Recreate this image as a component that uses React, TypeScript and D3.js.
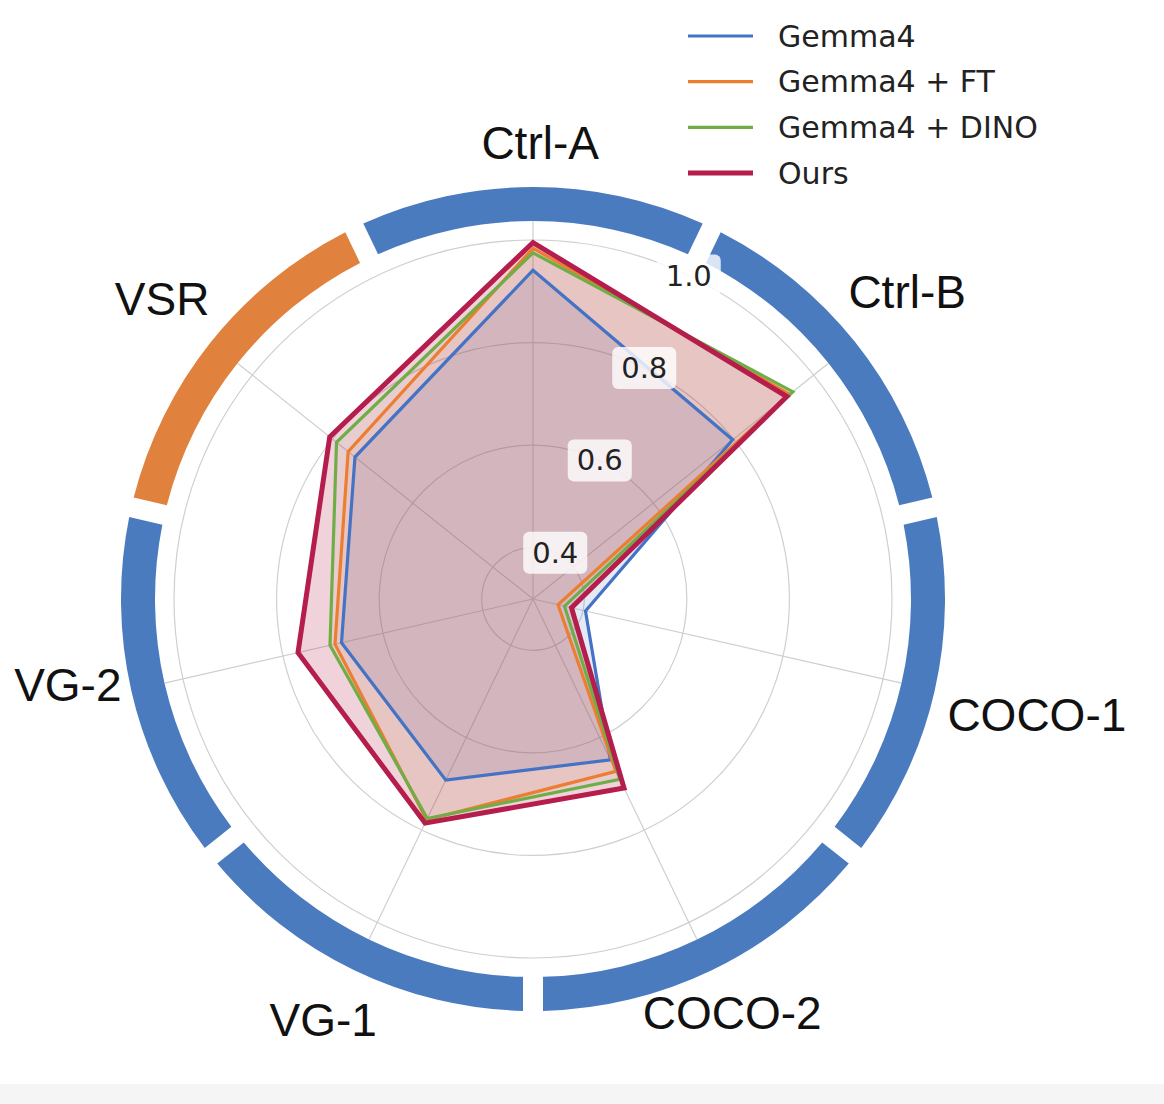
import React from "react";
import * as d3 from "d3";

const categories = ["Ctrl-A", "Ctrl-B", "COCO-1", "COCO-2", "VG-1", "VG-2", "VSR"];
const gemma4 = [0.941, 0.798, 0.405, 0.648, 0.692, 0.683, 0.744];
const gemma4FT = [0.984, 0.94, 0.35, 0.673, 0.778, 0.696, 0.761];
const gemma4DINO = [0.975, 0.948, 0.363, 0.69, 0.775, 0.706, 0.79];
const ours = [0.995, 0.933, 0.377, 0.709, 0.785, 0.77, 0.807];
const seriesNames = ["Gemma4", "Gemma4 + FT", "Gemma4 + DINO", "Ours"];
const radialTicks = [0.4, 0.6, 0.8, 1.0];
const groupOf = ["blue", "blue", "blue", "blue", "blue", "blue", "orange"];

// layout / style config (not data)
const W = 1164, H = 1104;
const CX = 533, CY = 599;
const R_MIN = 0.3, R_1 = 359; // radius at value 1.0
const AXIS_END = 378;
const BAND_IN = 378, BAND_OUT = 412;
const seriesColors = ["#4472C4", "#ED7D31", "#70AD47", "#B51D4C"];
const seriesWidths = [3.2, 3.2, 3.2, 5];
const seriesFill = [0.15, 0.08, 0.08, 0.2];
const bandColors: Record<string, string> = { blue: "#4A7BBF", orange: "#E0813D" };
const labelRadius = [456, 484, 517, 459, 470, 473, 477];
const labelAngleShift = [0.9, -0.8, 0.1, 0, 0.8, 2.4, 0.4];

export default function App() {
  const n = categories.length;
  const rScale = d3.scaleLinear().domain([R_MIN, 1.0]).range([0, R_1]);
  const angle = d3.scaleLinear().domain([0, n]).range([0, 2 * Math.PI]);
  const pt = (r: number, a: number): [number, number] => [CX + r * Math.sin(a), CY - r * Math.cos(a)];

  const series = [gemma4, gemma4FT, gemma4DINO, ours];
  const lineGen = d3
    .lineRadial<number>()
    .angle((_, i) => angle(i))
    .radius((v) => rScale(v))
    .curve(d3.curveLinearClosed);

  const arcGen = d3
    .arc<any>()
    .innerRadius(BAND_IN)
    .outerRadius(BAND_OUT)
    .padAngle(20 / Math.sqrt(BAND_IN * BAND_IN + BAND_OUT * BAND_OUT));

  const half = Math.PI / n;
  const tickAngle = half; // between first and second axes

  return (
    <svg
      width={W}
      height={H}
      style={{ position: "absolute", left: 0, top: 0, display: "block", background: "#fff" }}
    >
      <rect x={0} y={1084} width={W} height={H - 1084} fill="#f5f5f5" />
      {/* grid circles */}
      {radialTicks.map((t) => (
        <circle key={t} cx={CX} cy={CY} r={rScale(t)} fill="none" stroke="#cfcfcf" strokeWidth={1.2} />
      ))}
      {/* spokes */}
      {categories.map((c, i) => {
        const [x, y] = pt(AXIS_END, angle(i));
        return <line key={c} x1={CX} y1={CY} x2={x} y2={y} stroke="#cfcfcf" strokeWidth={1.2} />;
      })}
      <g transform={`translate(${CX},${CY})`}>
        {series.map((s, k) => (
          <path key={"f" + k} d={lineGen(s) || ""} fill={seriesColors[k]} fillOpacity={seriesFill[k]} stroke="none" />
        ))}
        {series.map((s, k) => (
          <path
            key={"l" + k}
            d={lineGen(s) || ""}
            fill="none"
            stroke={seriesColors[k]}
            strokeWidth={seriesWidths[k]}
            strokeLinejoin="miter"
          />
        ))}
        {categories.map((c, i) => (
          <path
            key={"b" + c}
            d={arcGen({ startAngle: angle(i) - half, endAngle: angle(i) + half }) || ""}
            fill={bandColors[groupOf[i]]}
          />
        ))}
      </g>
      {radialTicks.map((t) => {
        const [x, y] = pt(rScale(t), tickAngle);
        return (
          <g key={"t" + t} transform={`translate(${x},${y})`}>
            <rect x={-32} y={-21} width={64} height={42} rx={6} fill="#ffffff" fillOpacity={0.8} />
            <text
              textAnchor="middle"
              dominantBaseline="central"
              fontFamily="DejaVu Sans"
              fontSize={29}
              fill="#222"
            >
              {t.toFixed(1)}
            </text>
          </g>
        );
      })}
      {categories.map((c, i) => {
        const a = angle(i) + (labelAngleShift[i] * Math.PI) / 180;
        const [x, y] = pt(labelRadius[i], a);
        return (
          <text
            key={"c" + c}
            x={x}
            y={y}
            textAnchor="middle"
            dominantBaseline="central"
            fontFamily="Liberation Sans, Arial"
            fontSize={46}
            fill="#111"
          >
            {c}
          </text>
        );
      })}
      {seriesNames.map((s, k) => {
        const y = 36 + k * 45.7;
        return (
          <g key={"lg" + s}>
            <line x1={688} x2={753} y1={y} y2={y} stroke={seriesColors[k]} strokeWidth={seriesWidths[k]} />
            <text x={778} y={y} dominantBaseline="central" fontFamily="DejaVu Sans" fontSize={30} fill="#222">
              {s}
            </text>
          </g>
        );
      })}
    </svg>
  );
}
